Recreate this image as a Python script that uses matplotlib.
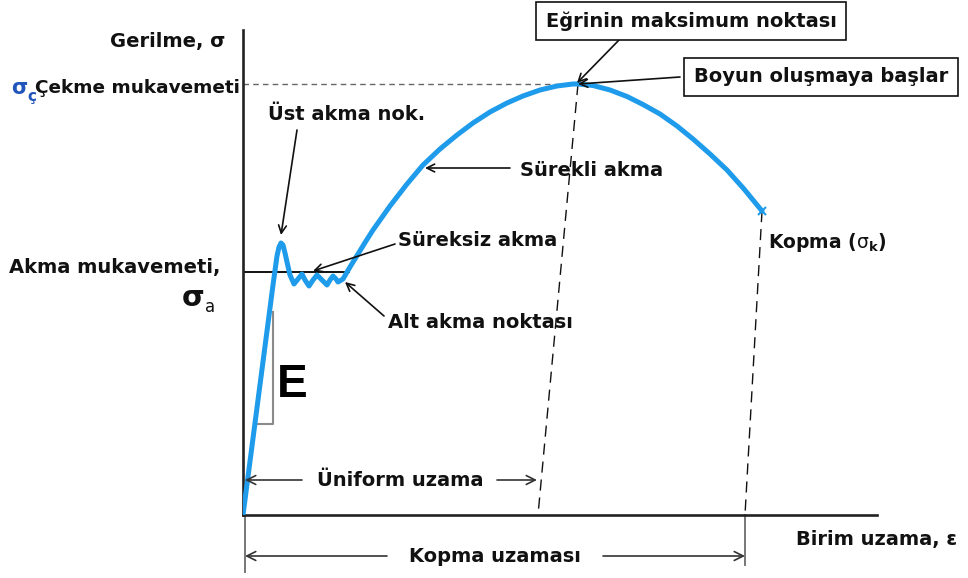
import matplotlib
matplotlib.use("Agg")
import matplotlib.pyplot as plt

# Engineering stress-strain curve (arbitrary units)
strain = [0.0, 3.0, 3.4, 3.6, 3.8, 4.0, 4.2, 4.4, 4.7, 5.1, 5.5, 5.9, 6.2, 6.6,
          7.0, 7.4, 7.9, 8.4, 8.7, 9.0, 9.3, 9.5, 10.0, 10.7, 11.5, 12.3, 13.0,
          14.7, 16.4, 18.0, 19.7, 21.4, 23.0, 24.7, 26.4, 28.0, 29.7, 31.4, 33.0,
          33.5, 35.0, 36.7, 38.4, 40.0, 41.7, 43.4, 45.0, 46.7, 48.4, 50.1, 51.9]
stress = [0.0, 23.0, 25.9, 26.8, 27.2, 27.0, 26.2, 25.3, 24.0, 23.1, 23.6, 24.1,
          23.5, 22.9, 23.5, 24.0, 23.5, 23.0, 23.5, 23.9, 23.6, 23.3, 23.6, 24.8,
          26.1, 27.4, 28.5, 30.9, 33.1, 35.0, 36.6, 38.0, 39.2, 40.3, 41.2, 41.9,
          42.5, 42.9, 43.1, 43.1, 42.95, 42.5, 41.85, 41.05, 40.1, 38.9, 37.6,
          36.1, 34.5, 32.6, 30.4]

yield_stress = 24.3        # akma mukavemeti
uts_strain, uts_stress = 33.5, 43.1      # maximum point
fracture_strain, fracture_stress = 51.9, 30.4
uniform_elong = 29.5       # plastic strain at max load
fracture_elong = 50.2      # plastic strain at fracture

BLUE = "#1E9BEA"
FONT = "DejaVu Sans"

fig = plt.figure(figsize=(9.68, 5.78), dpi=100)
ax = fig.add_axes([243 / 968, 63 / 578, 634 / 968, 485 / 578])
ax.set_xlim(0, 63.4)
ax.set_ylim(0, 48.5)
for s in ("top", "right"):
    ax.spines[s].set_visible(False)
for s in ("left", "bottom"):
    ax.spines[s].set_linewidth(1.9)
    ax.spines[s].set_color("#222222")
ax.set_xticks([])
ax.set_yticks([])

kw = dict(fontfamily=FONT, fontweight="bold", fontsize=14, color="#111111")

# reference / construction lines
ax.plot([0, uts_strain], [uts_stress, uts_stress], color="#666666", lw=1.0,
        ls=(0, (4, 3)), zorder=1)
ax.plot([uts_strain, uniform_elong], [uts_stress, 0], color="#111111", lw=1.0,
        ls=(0, (8, 5)), zorder=1)
ax.plot([fracture_strain, fracture_elong], [fracture_stress, 0], color="#111111",
        lw=1.0, ls=(0, (8, 5)), zorder=1)
ax.plot([0.2, 0.2], [0, -5.7], color="#777777", lw=1.4, clip_on=False)
ax.plot([fracture_elong, fracture_elong], [0, -5.0], color="#777777", lw=1.4,
        clip_on=False)
ax.plot([0, 10.6], [yield_stress, yield_stress], color="#111111", lw=1.4, zorder=2)

# modulus triangle
ax.plot([1.3, 3.0, 3.0], [9.1, 9.1, 20.3], color="#8a8a8a", lw=1.5, zorder=1)
ax.text(3.4, 13.0, "E", fontfamily="Liberation Sans", fontweight="bold",
        fontsize=33, color="black", va="center", ha="left")

# the curve
ax.plot(strain, stress, color=BLUE, lw=3.6, solid_joinstyle="round",
        solid_capstyle="round", zorder=3)
ax.plot([fracture_strain], [fracture_stress], marker="x", color=BLUE, ms=6,
        mew=1.5, zorder=4)

# axis labels
ax.text(-13.3, 47.3, "Gerilme, σ", ha="left", va="center", **kw)
ax.text(55.3, -2.5, "Birim uzama, ε", ha="left", va="center", **kw)
ax.text(-23.2, 42.7, "σ", ha="left", va="center", fontfamily=FONT,
        fontweight="bold", fontsize=15, color="#2255bb")
ax.text(-21.6, 41.8, "ç", ha="left", va="center", fontfamily=FONT,
        fontweight="bold", fontsize=11, color="#2255bb")
ax.text(-0.3, 42.7, "Çekme mukavemeti", ha="right", va="center",
        fontfamily=FONT, fontweight="bold", fontsize=13.3, color="#111111")
ax.text(-2.3, 24.7, "Akma mukavemeti,", ha="right", va="center", **kw)
ax.text(-6.1, 21.7, "σ", ha="left", va="center", fontfamily=FONT,
        fontweight="bold", fontsize=21, color="#111111")
ax.text(-3.8, 20.8, "a", ha="left", va="center", fontfamily=FONT,
        fontsize=12, color="#111111")
ax.text(52.5, 27.3, r"Kopma ($\mathrm{\sigma}_\mathbf{k}$)", ha="left",
        va="center", fontfamily=FONT, fontweight="bold", fontsize=13.5,
        color="#111111")

arrow = dict(arrowstyle="->", color="#111111", lw=1.2, shrinkA=0, shrinkB=0,
             mutation_scale=14)

ax.annotate("", xy=(3.8, 28.0), xytext=(5.4, 38.5), arrowprops=arrow)
ax.text(2.5, 40.0, "Üst akma nok.", ha="left", va="center", **kw)

ax.annotate("", xy=(18.2, 34.7), xytext=(26.7, 34.7), arrowprops=arrow)
ax.text(27.7, 34.5, "Sürekli akma", ha="left", va="center", **kw)

ax.annotate("", xy=(7.0, 24.4), xytext=(15.2, 27.1), arrowprops=arrow)
ax.text(15.5, 27.5, "Süreksiz akma", ha="left", va="center", **kw)

ax.annotate("", xy=(10.2, 23.3), xytext=(14.1, 19.9), arrowprops=arrow)
ax.text(14.5, 19.2, "Alt akma noktası", ha="left", va="center", **kw)

box = dict(boxstyle="square,pad=0.5", fc="white", ec="#111111", lw=1.2)
ax.annotate("", xy=(uts_strain - 0.1, uts_stress + 0.1), xytext=(37.8, 47.7),
            arrowprops=arrow, annotation_clip=False)
ax.text(44.8, 49.4, "Eğrinin maksimum noktası", ha="center", va="center",
        bbox=box, clip_on=False, **kw)
ax.annotate("", xy=(uts_strain, uts_stress), xytext=(43.7, 43.8),
            arrowprops=arrow, annotation_clip=False)
ax.text(57.8, 43.8, "Boyun oluşmaya başlar", ha="center", va="center",
        bbox=box, clip_on=False, **kw)

# elongation dimension arrows
darrow = dict(arrowstyle="->", color="#333333", lw=1.2, shrinkA=0, shrinkB=0,
              mutation_scale=16)
ax.annotate("", xy=(0.2, 3.5), xytext=(5.9, 3.5), arrowprops=darrow)
ax.annotate("", xy=(uniform_elong - 0.1, 3.5), xytext=(25.4, 3.5), arrowprops=darrow)
ax.text(15.7, 3.4, "Üniform uzama", ha="center", va="center", **kw)

ax.annotate("", xy=(0.2, -4.1), xytext=(14.4, -4.1), arrowprops=darrow,
            annotation_clip=False)
ax.annotate("", xy=(fracture_elong, -4.1), xytext=(36.0, -4.1), arrowprops=darrow,
            annotation_clip=False)
ax.text(25.2, -4.1, "Kopma uzaması", ha="center", va="center", **kw)

fig.savefig("out.png", dpi=100, facecolor="white")
